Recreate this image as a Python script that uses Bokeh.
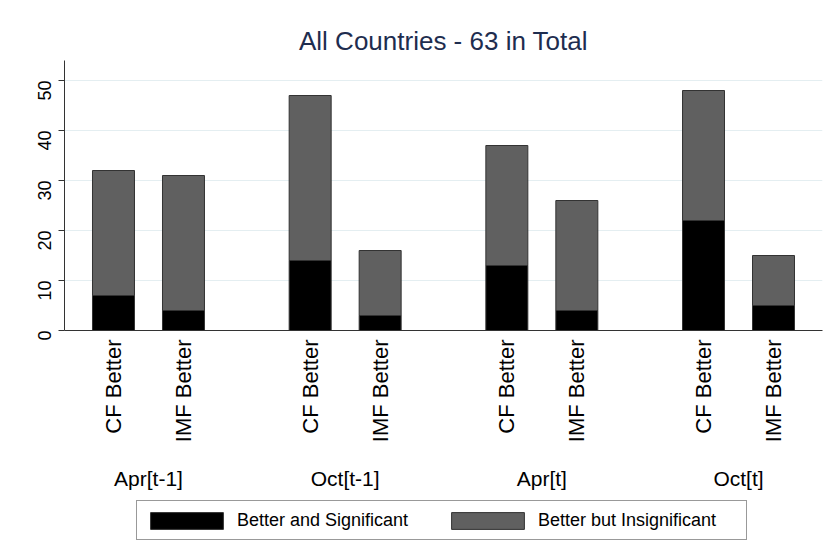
import math
from bokeh.plotting import figure
from bokeh.layouts import column
from bokeh.models import ColumnDataSource, FixedTicker, LinearAxis, Legend, LegendItem, Range1d
from bokeh.embed import file_html
from bokeh.resources import INLINE

# ---- data ----
groups = ["Apr[t-1]", "Oct[t-1]", "Apr[t]", "Oct[t]"]
bar_labels = ["CF Better", "IMF Better"]
significant = [7, 4, 14, 3, 13, 4, 22, 5]
insignificant = [25, 27, 33, 13, 24, 22, 26, 10]
series_names = ["Better and Significant", "Better but Insignificant"]
y_ticks = [0, 10, 20, 30, 40, 50]

FONT = "Liberation Sans"
GROUP_STEP = 2.81
FILLS = ["#000000", "#606060"]

xs = [g * GROUP_STEP + b for g in range(len(groups)) for b in range(len(bar_labels))]
group_centers = [g * GROUP_STEP + 0.5 for g in range(len(groups))]
sub_names = [bar_labels[b] for g in range(len(groups)) for b in range(len(bar_labels))]

source = ColumnDataSource(dict(x=xs, sig=significant, insig=insignificant))

p = figure(width=830, height=500, output_backend="svg", toolbar_location=None,
           x_range=Range1d(-0.70, 10.13), y_range=Range1d(0, 54),
           min_border_left=64, min_border_right=8, min_border_top=60, min_border_bottom=170)

renderers = p.vbar_stack(["sig", "insig"], x="x", width=0.6, source=source,
                         fill_color=FILLS, line_color="#333333", line_width=1)

p.title.text = "All Countries - 63 in Total"
p.title.align = "center"
p.title.text_font = FONT
p.title.text_font_size = "26px"
p.title.text_font_style = "normal"
p.title.text_color = "#1e2d4f"

p.outline_line_color = None
p.background_fill_color = "white"
p.border_fill_color = "white"

# y axis
p.yaxis.ticker = FixedTicker(ticks=y_ticks)
p.yaxis.major_label_orientation = math.pi / 2
p.yaxis.major_label_text_font = FONT
p.yaxis.major_label_text_font_size = "18px"
p.yaxis.major_label_text_color = "black"
p.yaxis.major_tick_out = 6
p.yaxis.major_tick_in = 0
p.yaxis.minor_tick_line_color = None
p.yaxis.axis_line_color = "#333333"
p.yaxis.major_tick_line_color = "#333333"
p.yaxis.major_label_standoff = 14

p.ygrid.ticker = FixedTicker(ticks=y_ticks)
p.ygrid.grid_line_color = "#e4eef1"
p.ygrid.grid_line_width = 1
p.xgrid.grid_line_color = None

# x axis: bar labels
xa = p.xaxis[0]
xa.ticker = FixedTicker(ticks=xs)
xa.major_label_overrides = {x: n for x, n in zip(xs, sub_names)}
xa.major_label_orientation = math.pi / 2
xa.major_label_text_font = FONT
xa.major_label_text_font_size = "22px"
xa.major_label_text_color = "black"
xa.major_tick_out = 0
xa.major_tick_in = 0
xa.major_tick_line_color = None
xa.minor_tick_line_color = None
xa.axis_line_color = "#333333"
xa.major_label_standoff = 9

# x axis: group labels
ga = LinearAxis(ticker=FixedTicker(ticks=group_centers),
                major_label_overrides={x: n for x, n in zip(group_centers, groups)})
ga.major_label_text_font = FONT
ga.major_label_text_font_size = "21px"
ga.major_label_text_color = "black"
ga.axis_line_color = None
ga.major_tick_line_color = None
ga.minor_tick_line_color = None
ga.major_tick_out = 0
ga.major_tick_in = 0
ga.major_label_standoff = 21
p.add_layout(ga, "below")

# ---- legend strip (frame aligned with the main plot) ----
p2 = figure(width=830, height=50, output_backend="svg", toolbar_location=None,
            x_range=p.x_range, y_range=Range1d(0, 54),
            x_axis_location=None, y_axis_location=None,
            min_border_left=64, min_border_right=8, min_border_top=0, min_border_bottom=0)
p2.outline_line_color = None
p2.xgrid.grid_line_color = None
p2.ygrid.grid_line_color = None
p2.background_fill_color = "white"
p2.border_fill_color = "white"
# same stacked glyphs, hidden, used only as legend keys
key_renderers = p2.vbar_stack(["sig", "insig"], x="x", width=0.6, source=source,
                              fill_color=FILLS, line_color="#333333", line_width=1)
for r in key_renderers:
    r.visible = False

legend = Legend(items=[LegendItem(label=series_names[i], renderers=[key_renderers[i]]) for i in range(2)],
                orientation="horizontal", location=(72, 10))
legend.label_text_font = FONT
legend.label_text_font_size = "18px"
legend.label_text_color = "black"
legend.glyph_width = 91
legend.glyph_height = 21
legend.label_height = 30
legend.label_standoff = 5
legend.label_width = 204
legend.spacing = 1
legend.padding = 4
legend.margin = 0
legend.inactive_fill_alpha = 0
legend.border_line_color = "#333333"
legend.border_line_width = 1
legend.background_fill_color = "white"
legend.background_fill_alpha = 1
p2.add_layout(legend, "center")

layout = column(p, p2, spacing=0)
open("out.html", "w").write(file_html(layout, INLINE))
